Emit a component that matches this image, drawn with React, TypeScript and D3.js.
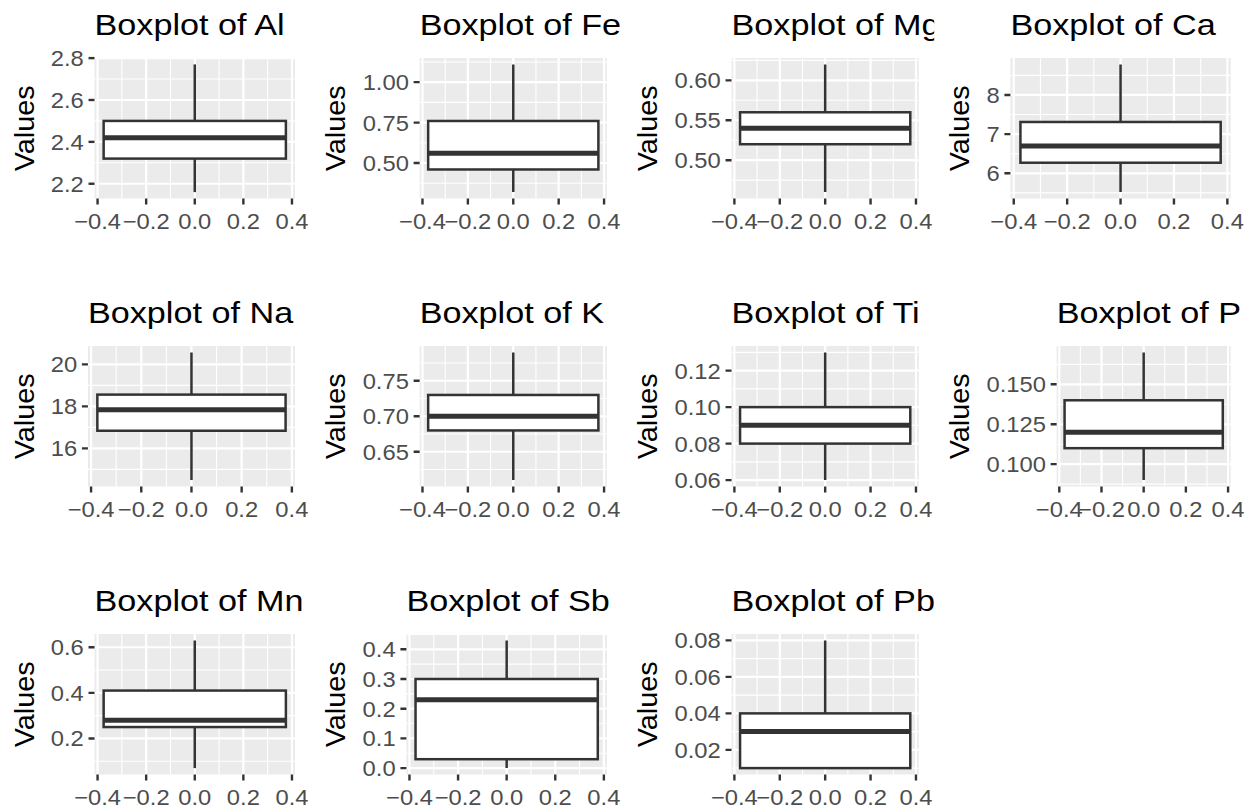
import React from "react";
import * as d3 from "d3";

// ---------- data ----------
const elements = ["Al", "Fe", "Mg", "Ca", "Na", "K", "Ti", "P", "Mn", "Sb", "Pb"];
const minValues = [2.16, 0.32, 0.46, 5.52, 14.49, 0.61, 0.06, 0.09, 0.07, 0.0, 0.01];
const q1Values = [2.32, 0.46, 0.52, 6.27, 16.84, 0.68, 0.08, 0.11, 0.25, 0.03, 0.01];
const medianValues = [2.42, 0.56, 0.54, 6.7, 17.84, 0.7, 0.09, 0.12, 0.28, 0.23, 0.03];
const q3Values = [2.5, 0.76, 0.56, 7.31, 18.56, 0.73, 0.1, 0.14, 0.41, 0.3, 0.04];
const maxValues = [2.77, 1.11, 0.62, 8.78, 20.57, 0.79, 0.13, 0.17, 0.63, 0.43, 0.08];

const yTickValues = [
  [2.2, 2.4, 2.6, 2.8],
  [0.5, 0.75, 1.0],
  [0.5, 0.55, 0.6],
  [6, 7, 8],
  [16, 18, 20],
  [0.65, 0.7, 0.75],
  [0.06, 0.08, 0.1, 0.12],
  [0.1, 0.125, 0.15],
  [0.2, 0.4, 0.6],
  [0.0, 0.1, 0.2, 0.3, 0.4],
  [0.02, 0.04, 0.06, 0.08],
];
const yTickLabels = [
  ["2.2", "2.4", "2.6", "2.8"],
  ["0.50", "0.75", "1.00"],
  ["0.50", "0.55", "0.60"],
  ["6", "7", "8"],
  ["16", "18", "20"],
  ["0.65", "0.70", "0.75"],
  ["0.06", "0.08", "0.10", "0.12"],
  ["0.100", "0.125", "0.150"],
  ["0.2", "0.4", "0.6"],
  ["0.0", "0.1", "0.2", "0.3", "0.4"],
  ["0.02", "0.04", "0.06", "0.08"],
];
const xTickValues = [-0.4, -0.2, 0, 0.2, 0.4];
const xTickLabels = ["\u22120.4", "\u22120.2", "0.0", "0.2", "0.4"];
const yAxisTitle = "Values";
const titlePrefix = "Boxplot of ";

// ---------- layout / style ----------
const W = 1254;
const H = 810;
const NCOL = 4;
const COL_W = 311.9;
const ROW_H = 288;
const PANEL_TOP0 = 58;
const PANEL_H = 140.5;
const PANEL_RIGHT_OFF = 295;
const LEFT_BASE = 61.5;
const FONT = '"Liberation Sans", Arial, Helvetica, sans-serif';
const TICK_FS = 22;
const TICK_SX = 1.08;
const TITLE_FS = 30;
const TITLE_SX = 1.14;
const AXT_FS = 28;
const AXT_SX = 1.03;
const BOX_HALF = 0.375;
const DARK = "#333333";

let measureCtx: CanvasRenderingContext2D | null = null;
function textWidth(s: string, fs: number, sx: number) {
  if (!measureCtx) {
    const c = document.createElement("canvas");
    measureCtx = c.getContext("2d");
  }
  if (!measureCtx) return s.length * fs * 0.556 * sx;
  measureCtx.font = `${fs}px ${FONT}`;
  return measureCtx.measureText(s).width * sx;
}

function minorBreaks(ticks: number[], lo: number, hi: number) {
  const step = ticks[1] - ticks[0];
  const out: number[] = [];
  for (let i = -1; i < ticks.length; i++) {
    const v = ticks[0] + (i + 0.5) * step;
    if (v > lo && v < hi) out.push(v);
  }
  return out;
}

function Panel({ i }: { i: number }) {
  const col = i % NCOL;
  const row = Math.floor(i / NCOL);
  const colOrigin = col * COL_W;
  const top = PANEL_TOP0 + row * ROW_H;
  const bottom = top + PANEL_H;
  const labels = yTickLabels[i];
  const maxLab = d3.max(labels, (l) => textWidth(l, TICK_FS, TICK_SX)) || 0;
  const left = colOrigin + LEFT_BASE + maxLab;
  const right = colOrigin + PANEL_RIGHT_OFF;

  const lo = minValues[i];
  const hi = maxValues[i];
  const pad = (hi - lo) * 0.05;
  const y = d3.scaleLinear().domain([lo - pad, hi + pad]).range([bottom, top]);
  const xPad = BOX_HALF * 2 * 0.05;
  const x = d3
    .scaleLinear()
    .domain([-BOX_HALF - xPad, BOX_HALF + xPad])
    .range([left, right]);

  const yMinor = minorBreaks(yTickValues[i], lo - pad, hi + pad);
  const xMinor = minorBreaks(xTickValues, -BOX_HALF - xPad, BOX_HALF + xPad);
  const clipId = `clip-${i}`;

  return (
    <g>
      <defs>
        <clipPath id={clipId}>
          <rect x={colOrigin - 1.5} y={row * ROW_H - 10} width={COL_W} height={ROW_H + 20} />
        </clipPath>
      </defs>
      <g clipPath={`url(#${clipId})`}>
        {/* panel */}
        <rect x={left} y={top} width={right - left} height={bottom - top} fill="#EBEBEB" />
        {yMinor.map((v, k) => (
          <line key={"ym" + k} x1={left} x2={right} y1={y(v)} y2={y(v)} stroke="#fff" strokeWidth={1.1} />
        ))}
        {xMinor.map((v, k) => (
          <line key={"xm" + k} x1={x(v)} x2={x(v)} y1={top} y2={bottom} stroke="#fff" strokeWidth={1.1} />
        ))}
        {yTickValues[i].map((v, k) => (
          <line key={"yM" + k} x1={left} x2={right} y1={y(v)} y2={y(v)} stroke="#fff" strokeWidth={2.2} />
        ))}
        {xTickValues.map((v, k) => (
          <line key={"xM" + k} x1={x(v)} x2={x(v)} y1={top} y2={bottom} stroke="#fff" strokeWidth={2.2} />
        ))}
        {/* whiskers */}
        <line x1={x(0)} x2={x(0)} y1={y(q3Values[i])} y2={y(maxValues[i])} stroke={DARK} strokeWidth={2.5} />
        <line x1={x(0)} x2={x(0)} y1={y(q1Values[i])} y2={y(minValues[i])} stroke={DARK} strokeWidth={2.5} />
        {/* box */}
        <rect
          x={x(-BOX_HALF)}
          y={y(q3Values[i])}
          width={x(BOX_HALF) - x(-BOX_HALF)}
          height={y(q1Values[i]) - y(q3Values[i])}
          fill="#fff"
          stroke={DARK}
          strokeWidth={2.5}
        />
        <line
          x1={x(-BOX_HALF)}
          x2={x(BOX_HALF)}
          y1={y(medianValues[i])}
          y2={y(medianValues[i])}
          stroke={DARK}
          strokeWidth={5}
        />
        {/* y axis */}
        {yTickValues[i].map((v, k) => (
          <g key={"yt" + k}>
            <line x1={left - 6} x2={left} y1={y(v)} y2={y(v)} stroke={DARK} strokeWidth={2.4} />
            <text
              transform={`translate(${left - 10.8},${y(v)}) scale(${TICK_SX},1)`}
              textAnchor="end"
              dy="0.36em"
              fontSize={TICK_FS}
              fill="#4D4D4D"
              fontFamily={FONT}
            >
              {labels[k]}
            </text>
          </g>
        ))}
        {/* x axis */}
        {xTickValues.map((v, k) => (
          <g key={"xt" + k}>
            <line x1={x(v)} x2={x(v)} y1={bottom} y2={bottom + 6} stroke={DARK} strokeWidth={2.4} />
            <text
              transform={`translate(${x(v)},${bottom + 30.5}) scale(${TICK_SX},1)`}
              textAnchor="middle"
              fontSize={TICK_FS}
              fill="#4D4D4D"
              fontFamily={FONT}
            >
              {xTickLabels[k]}
            </text>
          </g>
        ))}
        {/* axis title */}
        <text
          transform={`translate(${colOrigin + 33.5},${(top + bottom) / 2}) rotate(-90) scale(${AXT_SX},1)`}
          textAnchor="middle"
          fontSize={AXT_FS}
          fill="#000"
          fontFamily={FONT}
        >
          {yAxisTitle}
        </text>
        {/* title */}
        <text
          transform={`translate(${left},${top - 23}) scale(${TITLE_SX},1)`}
          fontSize={TITLE_FS}
          fill="#000"
          fontFamily={FONT}
        >
          {titlePrefix + elements[i]}
        </text>
      </g>
    </g>
  );
}

export default function App() {
  return (
    <svg
      width={W}
      height={H}
      style={{ position: "absolute", left: 0, top: 0, background: "#fff" }}
    >
      <rect width={W} height={H} fill="#fff" />
      {elements.map((_, i) => (
        <Panel key={i} i={i} />
      ))}
    </svg>
  );
}
